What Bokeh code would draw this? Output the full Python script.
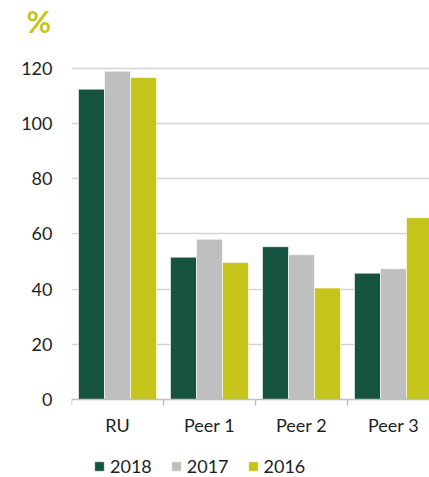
from bokeh.plotting import figure
from bokeh.models import Range1d, FixedTicker, Legend, LegendItem, ColumnDataSource
from bokeh.embed import file_html
from bokeh.resources import INLINE

categories = ["RU", "Peer 1", "Peer 2", "Peer 3"]
series_names = ["2018", "2017", "2016"]
values_2018 = [112.5, 51.6, 55.4, 45.8]
values_2017 = [119.0, 58.1, 52.5, 47.4]
values_2016 = [116.7, 49.7, 40.4, 65.9]
y_ticks = [0, 20, 40, 60, 80, 100, 120]
unit_label = "%"

colors = ["#165341", "#BFBFBF", "#C5C41A"]
series_values = [values_2018, values_2017, values_2016]

FONT = "Lato"
TEXT_COLOR = "#1E1E1E"

PX_PER_UNIT = 55.17 / 20
p = figure(width=429, height=477, output_backend="svg", toolbar_location=None,
           x_range=Range1d(0, 358 / 92),
           y_range=Range1d(-78 / PX_PER_UNIT, 361 / PX_PER_UNIT),
           min_border_left=71, min_border_right=0, min_border_top=38, min_border_bottom=0)
p.outline_line_color = None
p.background_fill_color = "white"
p.border_fill_color = "white"

p.title.text = unit_label
p.title.align = "left"
p.title.offset = -45
p.title.standoff = 0
p.title.text_font = FONT
p.title.text_font_style = "bold"
p.title.text_font_size = "30px"
p.title.text_color = "#C5C41A"

bar_w = 26 / 92
centers = [i + 0.5 for i in range(len(categories))]
renderers = []
for k, (vals, col) in enumerate(zip(series_values, colors)):
    off = (k - 1) * bar_w
    src = ColumnDataSource(dict(x=[c + off for c in centers], top=vals))
    r = p.vbar(x="x", top="top", width=bar_w, bottom=0, source=src,
               fill_color=col, line_color="white", line_width=0.6)
    renderers.append(r)

# y axis
p.yaxis.ticker = FixedTicker(ticks=y_ticks)
p.yaxis.axis_line_color = None
p.yaxis.major_tick_line_color = None
p.yaxis.minor_tick_line_color = None
p.yaxis.major_tick_out = 0
p.yaxis.major_label_standoff = 19
p.yaxis.major_label_text_font = FONT
p.yaxis.major_label_text_font_size = "18px"
p.yaxis.major_label_text_color = TEXT_COLOR

p.ygrid.ticker = FixedTicker(ticks=y_ticks[1:])
p.ygrid.grid_line_color = "#D4D4D4"
p.ygrid.grid_line_width = 1.5
p.xgrid.grid_line_color = None

# x axis, drawn at value 0
xa = p.xaxis[0]
xa.fixed_location = 0
xa.ticker = FixedTicker(ticks=centers, minor_ticks=list(range(len(categories) + 1)))
xa.major_label_overrides = {c: lab for c, lab in zip(centers, categories)}
xa.axis_line_color = "#BFBFBF"
xa.axis_line_width = 1.5
xa.major_tick_line_color = None
xa.major_tick_out = 0
xa.major_tick_in = 0
xa.minor_tick_line_color = "#BFBFBF"
xa.minor_tick_line_width = 1.5
xa.minor_tick_out = 6
xa.minor_tick_in = 0
xa.major_label_standoff = 8
xa.major_label_text_font = FONT
xa.major_label_text_font_size = "18px"
xa.major_label_text_color = TEXT_COLOR

legend = Legend(items=[LegendItem(label=n, renderers=[r]) for n, r in zip(series_names, renderers)],
                orientation="horizontal", location=(22, 0),
                glyph_width=12, glyph_height=12, label_standoff=5, spacing=18,
                label_text_font=FONT, label_text_font_size="18px", label_text_color=TEXT_COLOR,
                label_height=16, padding=0, margin=0, border_line_color=None,
                background_fill_alpha=0)
p.add_layout(legend, "center")

open("out.html", "w").write(file_html(p, INLINE))
